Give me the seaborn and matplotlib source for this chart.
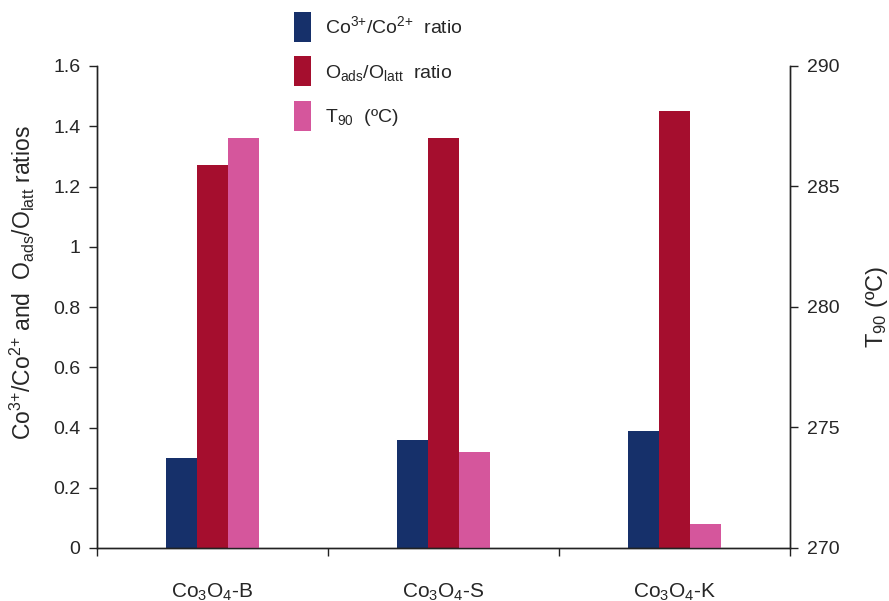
import matplotlib
matplotlib.use("Agg")
import matplotlib.pyplot as plt
import seaborn as sns
import pandas as pd
import numpy as np
from matplotlib.patches import Patch

categories = ["Co$_3$O$_4$-B", "Co$_3$O$_4$-S", "Co$_3$O$_4$-K"]
co_ratio = [0.30, 0.36, 0.39]
o_ratio = [1.27, 1.36, 1.45]
t90 = [287, 274, 271]
series = ["Co$^{3{+}}$/Co$^{2{+}}$  ratio", "O$_{ads}$/O$_{latt}$  ratio", "T$_{90}$  (ºC)"]
colors = ["#16306a", "#a50e2e", "#d5569c"]

sns.set_theme(style="white")
plt.rcParams['font.family'] = ['Liberation Sans', 'DejaVu Sans']
plt.rcParams['mathtext.default'] = 'regular'

# left axis: ratio series (T90 slot held with zero height so dodge keeps 3 slots)
left_df = pd.DataFrame({
    "cat": categories * 3,
    "series": [series[0]] * 3 + [series[1]] * 3 + [series[2]] * 3,
    "value": co_ratio + o_ratio + [0, 0, 0],
})
# right axis: T90 series (ratio slots held with zero height)
right_df = pd.DataFrame({
    "cat": categories * 3,
    "series": [series[0]] * 3 + [series[1]] * 3 + [series[2]] * 3,
    "value": [0, 0, 0] + [0, 0, 0] + t90,
})

fig = plt.figure(figsize=(8.89, 6.01), dpi=100)
ax = fig.add_axes([97/889, 1-548/601, (790-97)/889, (548-66)/601])
pal = dict(zip(series, colors))

sns.barplot(data=left_df, x="cat", y="value", hue="series", hue_order=series,
            order=categories, palette=pal, width=0.40, linewidth=0, ax=ax,
            legend=False, errorbar=None, saturation=1)
ax2 = ax.twinx()
sns.barplot(data=right_df, x="cat", y="value", hue="series", hue_order=series,
            order=categories, palette=pal, width=0.40, linewidth=0, ax=ax2,
            legend=False, errorbar=None, saturation=1)

ax.set_xlim(-0.5, 2.5)
ax.set_ylim(0, 1.6)
ax.set_yticks([0, 0.2, 0.4, 0.6, 0.8, 1.0, 1.2, 1.4, 1.6])
ax.set_yticklabels(["0", "0.2", "0.4", "0.6", "0.8", "1", "1.2", "1.4", "1.6"])
ax2.set_ylim(270, 290)
ax2.set_yticks([270, 275, 280, 285, 290])

ax.set_xticks([0, 1, 2])
ax.set_xticklabels(categories)
ax.set_xticks([-0.5, 0.5, 1.5, 2.5], minor=True)
ax.tick_params(axis="x", which="major", length=0, pad=24, labelsize=15)
ax.tick_params(axis="x", which="minor", length=6, width=1, direction="out",
               bottom=True, color="#222222")
ax.tick_params(axis="y", length=6, width=1, direction="out", left=True,
               labelsize=14, pad=6, color="#222222")
ax2.tick_params(axis="y", length=6, width=1, direction="out", right=True,
                labelsize=14, pad=6, color="#222222")
ax.set_xlabel("")
ax2.set_xlabel("")

for a in (ax, ax2):
    a.spines["top"].set_visible(False)
    for s in ("left", "right", "bottom"):
        a.spines[s].set_color("#222222")
        a.spines[s].set_linewidth(1)

ax.set_ylabel("Co$^{3{+}}$/Co$^{2{+}}$ and  O$_{ads}$/O$_{latt}$ ratios",
              fontsize=16.5, labelpad=11.5)
ax.yaxis.label.set_y(0.55)
ax2.set_ylabel("T$_{90}$ (ºC)", fontsize=17, labelpad=18)

handles = [Patch(facecolor=c, edgecolor="none") for c in colors]
fig.legend(handles, series, loc="upper left",
           bbox_to_anchor=(294/889, 1-12/601), frameon=False,
           fontsize=14, handlelength=0.85, handleheight=2.0,
           labelspacing=0.74, handletextpad=0.75, borderpad=0,
           borderaxespad=0)

fig.savefig("out.png", dpi=100)
